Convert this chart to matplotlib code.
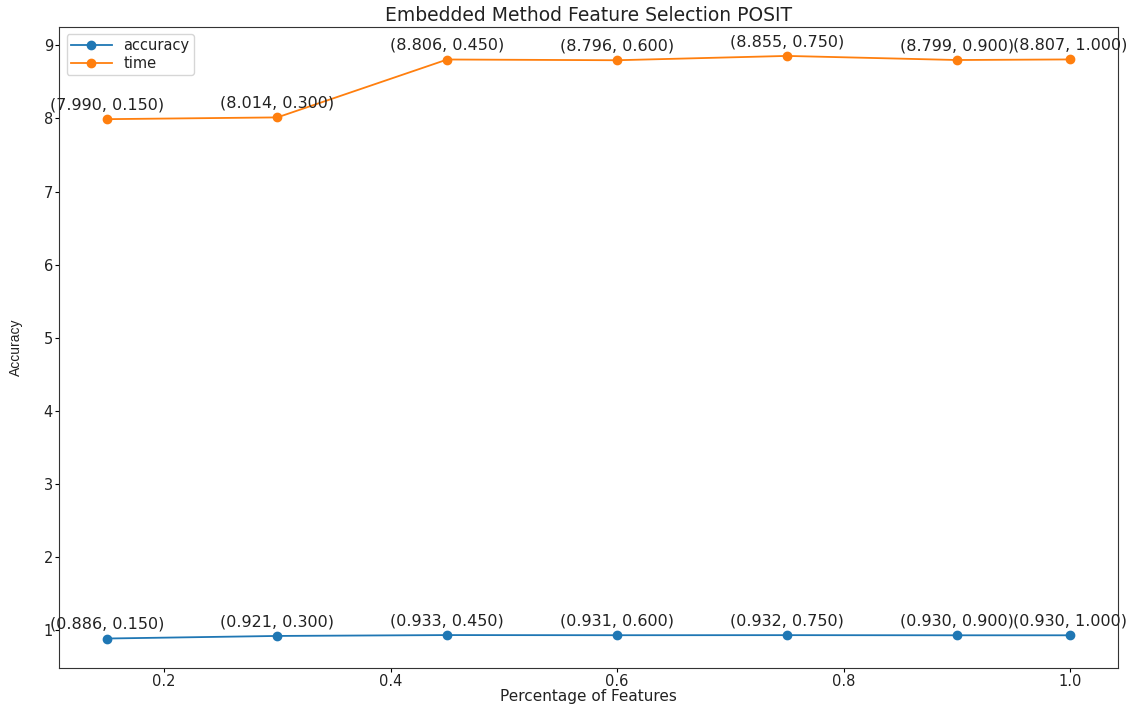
import matplotlib
matplotlib.use("Agg")
import matplotlib.pyplot as plt

# Fraction of features kept
percentages = [0.15, 0.30, 0.45, 0.60, 0.75, 0.90, 1.00]
# Classifier accuracy for each subset
accuracy = [0.886, 0.921, 0.933, 0.931, 0.932, 0.930, 0.930]
# Training time for each subset
time_vals = [7.990, 8.014, 8.806, 8.796, 8.855, 8.799, 8.807]

fig, ax = plt.subplots(figsize=(11.4, 7.05), dpi=100)
fig.subplots_adjust(left=0.052, right=0.981, top=0.962, bottom=0.053)

ax.plot(percentages, accuracy, marker="o", lw=1.3, label="accuracy")
ax.plot(percentages, time_vals, marker="o", lw=1.3, label="time")

for series in (accuracy, time_vals):
    for x, y in zip(percentages, series):
        ax.annotate(f"({y:.3f}, {x:.3f})", (x, y), textcoords="offset points",
                    xytext=(0, 7), ha="center", fontsize=11.5, color="#222222")

ax.set_title("Embedded Method Feature Selection POSIT", fontsize=13.5, pad=4,
             color="#222222")
ax.set_xlabel("Percentage of Features", fontsize=11, labelpad=0, color="#222222")
ax.set_ylabel("Accuracy", fontsize=10, family=["Liberation Sans", "DejaVu Sans"],
              color="#222222")
ax.yaxis.set_label_coords(-0.034, 0.5)
ax.tick_params(labelsize=10.5, length=3, pad=1.5, labelcolor="#222222")
for spine in ax.spines.values():
    spine.set_color("#333333")
ax.legend(loc="upper left", fontsize=10.5, labelspacing=0.15, borderpad=0.3,
          handlelength=2.8, labelcolor="#222222")

fig.savefig("out.png", dpi=100)
